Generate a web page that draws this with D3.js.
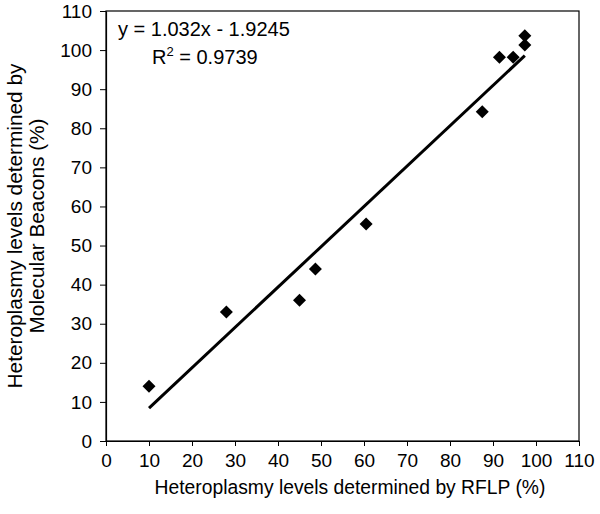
<!DOCTYPE html>
<meta charset="utf-8">
<script src="https://d3js.org/d3.v7.min.js"></script>
<style>
    body {margin: 0; background: #fff; font-family: 'Liberation Sans', Arial, sans-serif;}
</style>
<body>
<svg width="600" height="514"></svg>
<script>
    // data
    var rflp    = [10, 28, 45, 48.7, 60.5, 87.5, 91.5, 94.7, 97.4, 97.4];
    var beacons = [14, 33, 36, 44, 55.5, 84.2, 98.2, 98.2, 101.3, 103.7];
    var xTicks = [0, 10, 20, 30, 40, 50, 60, 70, 80, 90, 100, 110];
    var yTicks = [0, 10, 20, 30, 40, 50, 60, 70, 80, 90, 100, 110];
    var slope = 1.032, intercept = -1.9245;
    var eqLabel = "y = 1.032x - 1.9245";
    var r2Value = "0.9739";

    var svg = d3.select("svg"),
        pLeft = 106, pRight = 579, pTop = 11, pBottom = 441;

    var x = d3.scaleLinear().domain([0, 110]).range([pLeft, pRight]);
    var y = d3.scaleLinear().domain([0, 110]).range([pBottom, pTop]);

    // frame
    svg.append("rect")
        .attr("x", pLeft).attr("y", pTop)
        .attr("width", pRight - pLeft).attr("height", pBottom - pTop)
        .attr("fill", "none").attr("stroke", "#000").attr("stroke-width", 1.2);

    var xAxis = svg.append("g")
        .attr("transform", "translate(0," + pBottom + ")")
        .call(d3.axisBottom(x).tickValues(xTicks).tickSize(5).tickSizeOuter(0).tickPadding(8));
    var yAxis = svg.append("g")
        .attr("transform", "translate(" + pLeft + ",0)")
        .call(d3.axisLeft(y).tickValues(yTicks).tickSize(6).tickSizeOuter(0).tickPadding(8));

    [xAxis, yAxis].forEach(function(g){
        g.select(".domain").attr("stroke", "#000").attr("stroke-width", 1.2);
        g.selectAll(".tick line").attr("stroke", "#000");
        g.selectAll("text")
            .style("font-family", "'Liberation Sans', Arial, sans-serif")
            .style("font-size", "19px")
            .attr("fill", "#000");
    });

    // axis titles
    svg.append("text")
        .attr("x", 350).attr("y", 494)
        .attr("text-anchor", "middle")
        .style("font-size", "19.3px")
        .text("Heteroplasmy levels determined by RFLP (%)");

    var yt = svg.append("text")
        .attr("transform", "translate(0,226) rotate(-90)")
        .attr("text-anchor", "middle")
        .style("font-size", "20.8px");
    yt.append("tspan").attr("x", 0).attr("y", 22).text("Heteroplasmy levels determined by");
    yt.append("tspan").attr("x", 0).attr("y", 44).text("Molecular Beacons (%)");

    // trend line from min to max x
    var xMin = d3.min(rflp), xMax = d3.max(rflp);
    svg.append("line")
        .attr("x1", x(xMin)).attr("y1", y(slope * xMin + intercept))
        .attr("x2", x(xMax)).attr("y2", y(slope * xMax + intercept))
        .attr("stroke", "#000").attr("stroke-width", 3);

    // diamonds
    svg.append("g").selectAll("path")
        .data(d3.zip(rflp, beacons))
        .enter().append("path")
        .attr("d", "M0,-6.5L6.5,0L0,6.5L-6.5,0Z")
        .attr("transform", function(d){ return "translate(" + x(d[0]) + "," + y(d[1]) + ")"; })
        .attr("fill", "#000");

    // equation
    svg.append("text")
        .attr("x", 118).attr("y", 36)
        .style("font-size", "20px")
        .text(eqLabel);
    var r2 = svg.append("text")
        .attr("x", 152).attr("y", 64)
        .style("font-size", "20px");
    r2.append("tspan").text("R");
    r2.append("tspan").attr("dy", -8).style("font-size", "13px").text("2");
    r2.append("tspan").attr("dy", 8).text(" = " + r2Value);
</script>
</body>
